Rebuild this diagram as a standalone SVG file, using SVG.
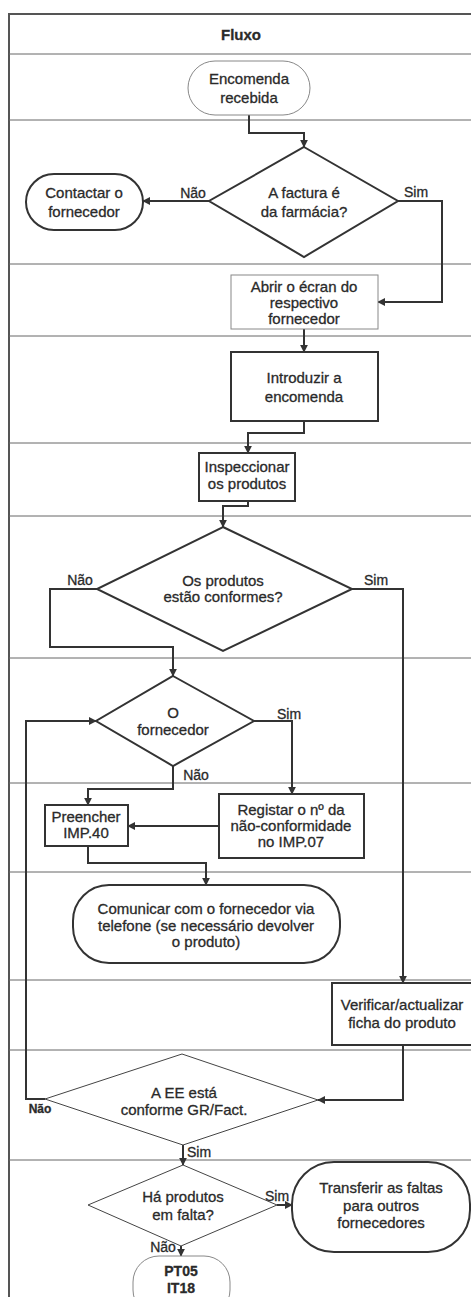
<svg xmlns="http://www.w3.org/2000/svg" width="471" height="1297" viewBox="0 0 471 1297">
<defs>
<marker id="ah" viewBox="0 0 10 10" refX="9" refY="5" markerWidth="8" markerHeight="8" markerUnits="userSpaceOnUse" orient="auto"><path d="M0,0 L10,5 L0,10 z" fill="#333"/></marker>
<style>
text{font-family:"Liberation Sans",Arial,sans-serif;font-size:15px;fill:#2a2a2a;stroke:#2a2a2a;stroke-width:0.3;text-anchor:middle}
.lbl{font-size:14px}
.sm{font-size:12px;font-weight:bold}
.grid{stroke:#666;stroke-width:1;fill:none}
.box{fill:#fff;stroke:#333;stroke-width:2}
.thin{fill:#fff;stroke:#888;stroke-width:1}
.tdia{fill:#fff;stroke:#444;stroke-width:1}
.c{fill:none;stroke:#333;stroke-width:2;marker-end:url(#ah)}
</style>
</defs>
<rect width="471" height="1297" fill="#fff"/>
<g id="frame">
<path class="grid" d="M9,1297 V14 H471" style="stroke-width:2;stroke:#555"/>
<path class="grid" d="M9,54 H471 M9,120 H471 M9,264 H471 M9,336 H471 M9,443 H471 M9,516 H471 M9,658 H471 M9,783 H471 M9,872 H471 M9,980 H471 M9,1050 H471 M9,1160 H471"/>
<text x="241" y="40" style="font-weight:bold">Fluxo</text>
</g>
<g id="connectors">
<path class="c" d="M249,115 V133 H304 V147"/>
<path class="c" d="M209,201 H143"/>
<path class="c" d="M398,201 H442 V302 H378"/>
<path class="c" d="M304,329 V352"/>
<path class="c" d="M304,421 V433 H248 V453"/>
<path class="c" d="M248,501 V506 H223 V527"/>
<path class="c" d="M97,589 H50 V647 H173 V676"/>
<path class="c" d="M352,589 H403 V983"/>
<path class="c" d="M254,721 H292 V794"/>
<path class="c" d="M173,766 V789 H88 V805"/>
<path class="c" d="M219,826 H128"/>
<path class="c" d="M88,846 V863 H206 V885"/>
<path class="c" d="M403,1045 V1100 H318"/>
<path class="c" d="M45,1099 H26 V721 H96"/>
<path class="c" d="M183,1145 V1165"/>
<path class="c" d="M277,1205 H292"/>
<path class="c" d="M181,1246 V1256"/>
<text class="lbl" x="193" y="198">Não</text>
<text class="lbl" x="416" y="197">Sim</text>
<text class="lbl" x="80" y="585">Não</text>
<text class="lbl" x="376" y="585">Sim</text>
<text class="lbl" x="289" y="719">Sim</text>
<text class="lbl" x="196" y="780">Não</text>
<text class="sm" x="40" y="1113">Não</text>
<text class="lbl" x="199" y="1157">Sim</text>
<text class="lbl" x="277" y="1201">Sim</text>
<text class="lbl" x="163" y="1252">Não</text>
</g>
<g id="n-encomenda">
<rect class="thin" x="188" y="61" width="122" height="54" rx="27"/>
<text x="249" y="84">Encomenda</text><text x="249" y="103">recebida</text>
</g>
<g id="n-factura">
<polygon class="box" points="304,147 398,201 304,257 209,201"/>
<text x="304" y="198">A factura é</text><text x="304" y="217">da farmácia?</text>
</g>
<g id="n-contactar">
<rect class="box" x="26" y="174" width="117" height="56" rx="28"/>
<text x="84" y="198">Contactar o</text><text x="84" y="217">fornecedor</text>
</g>
<g id="n-abrir">
<rect class="thin" x="231" y="275" width="147" height="54"/>
<text x="304" y="292">Abrir o écran do</text><text x="304" y="308">respectivo</text><text x="304" y="324">fornecedor</text>
</g>
<g id="n-introduzir">
<rect class="box" x="231" y="352" width="147" height="69"/>
<text x="304" y="383">Introduzir a</text><text x="304" y="402">encomenda</text>
</g>
<g id="n-inspeccionar">
<rect class="box" x="199" y="453" width="96" height="48"/>
<text x="247" y="472">Inspeccionar</text><text x="247" y="489">os produtos</text>
</g>
<g id="n-conformes">
<polygon class="box" points="223,527 352,589 223,651 97,589"/>
<text x="223" y="586">Os produtos</text><text x="223" y="602">estão conformes?</text>
</g>
<g id="n-fornecedor">
<polygon class="box" points="173,676 254,721 173,766 96,721"/>
<text x="173" y="718">O</text><text x="173" y="735">fornecedor</text>
</g>
<g id="n-preencher">
<rect class="box" x="45" y="805" width="83" height="41"/>
<text x="86" y="822">Preencher</text><text x="86" y="838">IMP.40</text>
</g>
<g id="n-registar">
<rect class="box" x="219" y="794" width="145" height="64"/>
<text x="291" y="815">Registar o nº da</text><text x="291" y="831">não-conformidade</text><text x="291" y="847">no IMP.07</text>
</g>
<g id="n-comunicar">
<rect class="box" x="73" y="885" width="267" height="78" rx="36"/>
<text x="206" y="914">Comunicar com o fornecedor via</text><text x="206" y="931">telefone (se necessário devolver</text><text x="206" y="947">o produto)</text>
</g>
<g id="n-verificar">
<rect class="box" x="332" y="983" width="142" height="62"/>
<text x="402" y="1010">Verificar/actualizar</text><text x="402" y="1028">ficha do produto</text>
</g>
<g id="n-ee">
<polygon class="tdia" points="182,1054 318,1100 183,1145 45,1099"/>
<text x="184" y="1098">A EE está</text><text x="184" y="1115">conforme GR/Fact.</text>
</g>
<g id="n-falta">
<polygon class="tdia" points="183,1165 277,1205 181,1246 88,1205"/>
<text x="183" y="1202">Há produtos</text><text x="183" y="1220">em falta?</text>
</g>
<g id="n-transferir">
<rect class="box" x="292" y="1162" width="178" height="90" rx="42"/>
<text x="381" y="1193">Transferir as faltas</text><text x="381" y="1211">para outros</text><text x="381" y="1228">fornecedores</text>
</g>
<g id="n-pt05">
<rect class="thin" x="133" y="1256" width="97" height="60" rx="26"/>
<text x="181" y="1276" style="font-weight:bold;font-size:14px">PT05</text><text x="181" y="1293" style="font-weight:bold;font-size:14px">IT18</text>
</g>
</svg>
